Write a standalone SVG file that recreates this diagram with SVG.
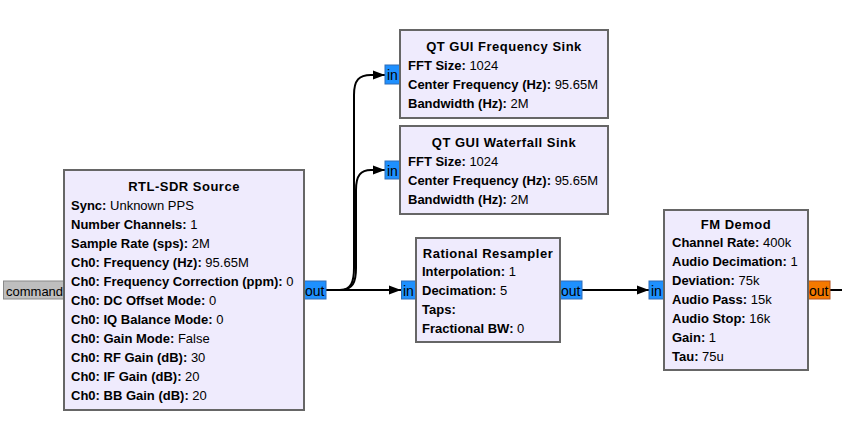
<svg xmlns="http://www.w3.org/2000/svg" width="842" height="440" viewBox="0 0 842 440">
<defs>
<style>
.box{fill:#efebfd;stroke:#666;stroke-width:2}
.t{font-family:"Liberation Sans",Arial,sans-serif;font-size:13px;fill:#000}
.pl{font-size:14px}
.ti{font-weight:bold;text-anchor:middle;letter-spacing:0.5px}
.b{font-weight:bold}
.pb{fill:#1e90ff;stroke:#2f6db8;stroke-width:1}
.po{fill:#f57900;stroke:#b4531c;stroke-width:1}
.pg{fill:#bebebe;stroke:#8a8a8a;stroke-width:1}
.wire{fill:none;stroke:#000;stroke-width:2}
</style>
<marker id="arr" markerUnits="userSpaceOnUse" markerWidth="13" markerHeight="10" refX="12" refY="5" orient="auto">
<path d="M0,0.5 L12,5 L0,9.5 z" fill="#000"/>
</marker>
</defs>
<rect width="842" height="440" fill="#fff"/>

<g id="connectors">
<path class="wire" d="M326,290 H401" marker-end="url(#arr)"/>
<path class="wire" d="M326,290 H340 C351,290 354,282 354,268 V95 C354,80 359,75 371,75 H385" marker-end="url(#arr)"/>
<path class="wire" d="M326,290 H340 C353,290 356,282 356,268 V190 C356,175 361,170 371,170 H385" marker-end="url(#arr)"/>
<path class="wire" d="M582,290 H649" marker-end="url(#arr)"/>
<path class="wire" d="M830,290 H842"/>
</g>

<g id="rtl_sdr_source">
<rect class="pg" x="3.5" y="281" width="60" height="18"/>
<text class="t" x="6" y="295.5">command</text>
<rect class="pb" x="304" y="281" width="22" height="18"/>
<text class="t pl" x="305" y="295.5">out</text>
<rect class="box" x="64" y="170" width="240" height="240"/>
<text class="t ti" x="184" y="191">RTL-SDR Source</text>
<text class="t" x="71" y="210"><tspan class="b">Sync:</tspan> Unknown PPS</text>
<text class="t" x="71" y="229"><tspan class="b">Number Channels:</tspan> 1</text>
<text class="t" x="71" y="248"><tspan class="b">Sample Rate (sps):</tspan> 2M</text>
<text class="t" x="71" y="267"><tspan class="b">Ch0: Frequency (Hz):</tspan> 95.65M</text>
<text class="t" x="71" y="286"><tspan class="b">Ch0: Frequency Correction (ppm):</tspan> 0</text>
<text class="t" x="71" y="305"><tspan class="b">Ch0: DC Offset Mode:</tspan> 0</text>
<text class="t" x="71" y="324"><tspan class="b">Ch0: IQ Balance Mode:</tspan> 0</text>
<text class="t" x="71" y="343"><tspan class="b">Ch0: Gain Mode:</tspan> False</text>
<text class="t" x="71" y="362"><tspan class="b">Ch0: RF Gain (dB):</tspan> 30</text>
<text class="t" x="71" y="381"><tspan class="b">Ch0: IF Gain (dB):</tspan> 20</text>
<text class="t" x="71" y="400"><tspan class="b">Ch0: BB Gain (dB):</tspan> 20</text>
</g>

<g id="qt_gui_freq_sink">
<rect class="pb" x="385" y="65" width="15" height="19"/>
<text class="t pl" x="387" y="80">in</text>
<rect class="box" x="400" y="30" width="208" height="88"/>
<text class="t ti" x="504" y="51">QT GUI Frequency Sink</text>
<text class="t" x="408" y="70"><tspan class="b">FFT Size:</tspan> 1024</text>
<text class="t" x="408" y="89"><tspan class="b">Center Frequency (Hz):</tspan> 95.65M</text>
<text class="t" x="408" y="108"><tspan class="b">Bandwidth (Hz):</tspan> 2M</text>
</g>

<g id="qt_gui_waterfall_sink">
<rect class="pb" x="385" y="161" width="15" height="18"/>
<text class="t pl" x="387" y="175.5">in</text>
<rect class="box" x="400" y="126" width="208" height="88"/>
<text class="t ti" x="504" y="147">QT GUI Waterfall Sink</text>
<text class="t" x="408" y="166"><tspan class="b">FFT Size:</tspan> 1024</text>
<text class="t" x="408" y="185"><tspan class="b">Center Frequency (Hz):</tspan> 95.65M</text>
<text class="t" x="408" y="204"><tspan class="b">Bandwidth (Hz):</tspan> 2M</text>
</g>

<g id="rational_resampler">
<rect class="pb" x="401.5" y="281" width="15" height="18"/>
<text class="t pl" x="403" y="295.5">in</text>
<rect class="pb" x="560" y="281" width="22" height="18"/>
<text class="t pl" x="561" y="295.5">out</text>
<rect class="box" x="416" y="238" width="144" height="104"/>
<text class="t ti" x="488" y="258">Rational Resampler</text>
<text class="t" x="422" y="276"><tspan class="b">Interpolation:</tspan> 1</text>
<text class="t" x="422" y="295"><tspan class="b">Decimation:</tspan> 5</text>
<text class="t" x="422" y="314"><tspan class="b">Taps:</tspan></text>
<text class="t" x="422" y="333"><tspan class="b">Fractional BW:</tspan> 0</text>
</g>

<g id="fm_demod">
<rect class="pb" x="649" y="281" width="15" height="18"/>
<text class="t pl" x="651" y="295.5">in</text>
<rect class="po" x="808" y="281" width="22" height="18"/>
<text class="t pl" x="809" y="295.5">out</text>
<rect class="box" x="664" y="210" width="144" height="160"/>
<text class="t ti" x="736" y="229">FM Demod</text>
<text class="t" x="672" y="247"><tspan class="b">Channel Rate:</tspan> 400k</text>
<text class="t" x="672" y="266"><tspan class="b">Audio Decimation:</tspan> 1</text>
<text class="t" x="672" y="285"><tspan class="b">Deviation:</tspan> 75k</text>
<text class="t" x="672" y="304"><tspan class="b">Audio Pass:</tspan> 15k</text>
<text class="t" x="672" y="323"><tspan class="b">Audio Stop:</tspan> 16k</text>
<text class="t" x="672" y="342"><tspan class="b">Gain:</tspan> 1</text>
<text class="t" x="672" y="361"><tspan class="b">Tau:</tspan> 75u</text>
</g>
</svg>
